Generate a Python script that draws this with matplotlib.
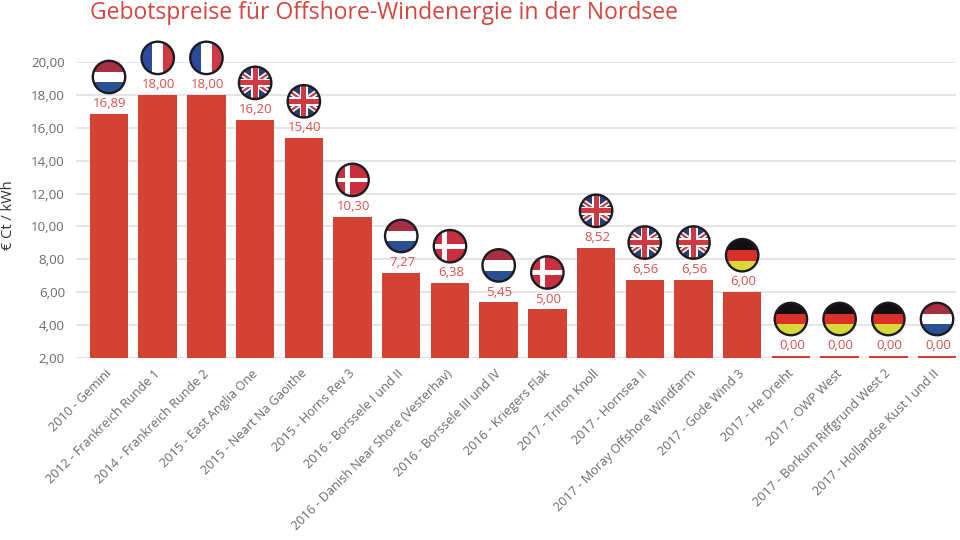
import matplotlib
matplotlib.use("Agg")
import matplotlib.pyplot as plt
from matplotlib.patches import Circle, Rectangle
from matplotlib.lines import Line2D
from matplotlib.transforms import Affine2D, ScaledTranslation

plt.rcParams['font.family'] = ['Open Sans', 'DejaVu Sans']

TITLE = "Gebotspreise für Offshore-Windenergie in der Nordsee"
YLABEL = "€ Ct / kWh"
projects = ["2010 - Gemini", "2012 - Frankreich Runde 1", "2014 - Frankreich Runde 2",
            "2015 - East Anglia One", "2015 - Neart Na Gaoithe", "2015 - Horns Rev 3",
            "2016 - Borssele I und II", "2016 - Danish Near Shore (Vesterhav)",
            "2016 - Borssele III und IV", "2016 - Kriegers Flak", "2017 - Triton Knoll",
            "2017 - Hornsea II", "2017 - Moray Offshore Windfarm", "2017 - Gode Wind 3",
            "2017 - He Dreiht", "2017 - OWP West", "2017 - Borkum Riffgrund West 2",
            "2017 - Hollandse Kust I und II"]
drawn_heights = [16.84, 18.0, 18.0, 16.48, 15.36, 10.58, 7.17, 6.55, 5.38, 4.95,
                 8.70, 6.77, 6.77, 6.0, 2.12, 2.12, 2.12, 2.12]
value_labels = ["16,89", "18,00", "18,00", "16,20", "15,40", "10,30", "7,27", "6,38", "5,45",
                "5,00", "8,52", "6,56", "6,56", "6,00", "0,00", "0,00", "0,00", "0,00"]
flags = ["nl", "fr", "fr", "uk", "uk", "dk", "nl", "dk", "nl", "dk",
         "uk", "uk", "uk", "de", "de", "de", "de", "nl"]
yticks = [2, 4, 6, 8, 10, 12, 14, 16, 18, 20]

RED = "#d44236"
fig = plt.figure(figsize=(9.6, 5.4), dpi=100)
ax = fig.add_axes([76/960, (540-358)/540, 880/960, 296/540])
x = list(range(len(projects)))
ax.bar(x, [h-2 for h in drawn_heights], bottom=2, width=0.79, color=RED, zorder=3)
ax.set_xlim(-0.678, 17.39)
ax.set_ylim(2, 20)
ax.set_yticks(yticks)
ax.set_yticklabels([f"{t},00" for t in yticks], color="#6b6b6b", fontsize=9.6)
ax.set_xticks(x)
ax.set_xticklabels(projects, rotation=45, ha="right", rotation_mode="anchor",
                   color="#6b6b6b", fontsize=9.1)
ax.tick_params(axis="both", length=0)
ax.tick_params(axis="y", pad=8)
ax.tick_params(axis="x", pad=5)
for t in ax.get_xticklabels():
    t.set_transform(t.get_transform() + ScaledTranslation(-4/100, -2/100, fig.dpi_scale_trans))
ax.grid(axis="y", color="#dfe0e6", lw=1.2, zorder=0)
ax.set_axisbelow(True)
for s in ax.spines.values():
    s.set_visible(False)
fig.text(90/960, 1-13/540, TITLE, color="#d6453d", fontsize=16.5, ha="left", va="center")
fig.text(9/960, 1-215/540, YLABEL, color="#333333", fontsize=10.5, rotation=90, ha="center", va="center")

R = 16.2
FR_BLUE, NAVY, FRED = "#2b4a9b", "#27406f", "#cf3a42"

def add(artist, clip, tr):
    artist.set_transform(tr)
    fig.add_artist(artist)
    artist.set_clip_path(clip)
    artist.set_zorder(6)

def flag(kind, cx, cy):
    tr = Affine2D().translate(cx, cy)
    clip = Circle((0, 0), R, transform=tr)
    def rect(x0, y0, w, h, c):
        add(Rectangle((x0, y0), w, h, fc=c, ec="none"), clip, tr)
    def line(xs, ys, c, w):
        add(Line2D(xs, ys, color=c, lw=w, solid_capstyle="butt"), clip, tr)
    if kind == "nl":
        rect(-R, R/3, 2*R, 2*R/3, "#a52f3f")
        rect(-R, -R/3, 2*R, 2*R/3, "white")
        rect(-R, -R, 2*R, 2*R/3, "#2a4f92")
    elif kind == "de":
        rect(-R, R/3, 2*R, 2*R/3, "#111111")
        rect(-R, -R/3, 2*R, 2*R/3, "#d9302c")
        rect(-R, -R, 2*R, 2*R/3, "#d8d83a")
    elif kind == "fr":
        rect(-R, -R, 2*R/3, 2*R, FR_BLUE)
        rect(-R/3, -R, 2*R/3, 2*R, "white")
        rect(R/3, -R, 2*R/3, 2*R, FRED)
    elif kind == "dk":
        rect(-R, -R, 2*R, 2*R, "#c8303f")
        rect(-R, -2.4, 2*R, 4.8, "white")
        rect(-7.5, -R, 4.8, 2*R, "white")
    else:
        rect(-R, -R, 2*R, 2*R, NAVY)
        line([-R, R], [-R*0.7, R*0.7], "white", 4.0)
        line([-R, R], [R*0.7, -R*0.7], "white", 4.0)
        line([-R, R], [-R*0.7, R*0.7], FRED, 1.6)
        line([-R, R], [R*0.7, -R*0.7], FRED, 1.6)
        rect(-R, -4.2, 2*R, 8.4, "white")
        rect(-4.2, -R, 8.4, 2*R, "white")
        rect(-R, -2.5, 2*R, 5.0, FRED)
        rect(-2.5, -R, 5.0, 2*R, FRED)
    ring = Circle((0, 0), R, fc="none", ec="#1b1b22", lw=1.7, transform=tr, zorder=7)
    fig.add_artist(ring)

for i, (h, lab, k) in enumerate(zip(drawn_heights, value_labels, flags)):
    ax.annotate(lab, (i, h), xytext=(0.7, 7.5), textcoords="offset points", ha="center", va="center",
                color="#d8524c", fontsize=9.5, annotation_clip=False, zorder=5)
    cx, cy = ax.transData.transform((i, h))
    flag(k, cx, cy + 37)

fig.savefig("out.png", dpi=100)
